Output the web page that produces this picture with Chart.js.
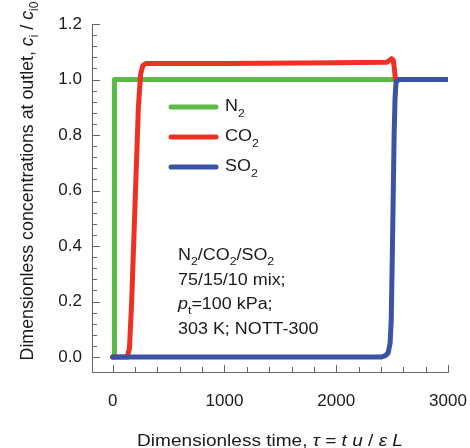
<!DOCTYPE html>
<html>
<head>
<meta charset="utf-8">
<script src="https://cdn.jsdelivr.net/npm/chart.js@4/dist/chart.umd.min.js"></script>
<style>
  html, body { margin: 0; padding: 0; background: #fff; }
  #wrap { width: 470px; height: 448px; position: relative; }
</style>
</head>
<body>
<div id="wrap"><canvas id="chart"></canvas></div>
<script>
// breakthrough curves (tau, c/c0)
const n2Tau  = [0, 12, 12, 20, 3000];
const n2Conc = [0, 0, 0.97, 1.0, 1.0];

const co2Tau  = [0, 130, 150, 170, 200, 230, 250, 270, 300, 1000, 2000, 2450, 2480, 2495, 2510, 2520, 2530, 2560, 3000];
const co2Conc = [0, 0, 0.03, 0.2, 0.55, 0.9, 1.02, 1.05, 1.058, 1.058, 1.06, 1.062, 1.07, 1.075, 1.07, 1.04, 1.0, 1.0, 1.0];

const so2Tau  = [0, 2400, 2440, 2465, 2482, 2492, 2505, 2518, 2526, 2535, 2560, 3000];
const so2Conc = [0, 0, 0.005, 0.015, 0.05, 0.13, 0.45, 0.8, 0.93, 0.99, 1.0, 1.0];

const xTicks = [0, 1000, 2000, 3000];
const yTicks = [0, 0.2, 0.4, 0.6, 0.8, 1.0, 1.2];

const seriesNames = ['N', 'CO', 'SO'];
const seriesColors = ['#5cbb46', '#ee3124', '#3a53a4'];

const FONT = '"Liberation Sans", Arial, Helvetica, sans-serif';
const STRETCH = 1.12; // the source figure is a bit wider than it is tall

function pts(xs, ys) {
  return xs.map((x, i) => ({ x: x, y: ys[i] }));
}

// text made of runs: {t, it, sub}
function drawRuns(ctx, runs, x, y, size, align, subDrop, sx) {
  const subSize = Math.round(size * 0.7);
  const fontOf = r => (r.it ? 'italic ' : '') + (r.sub ? subSize : size) + 'px ' + FONT;
  let total = 0;
  runs.forEach(r => { ctx.font = fontOf(r); total += ctx.measureText(r.t).width; });
  ctx.save();
  ctx.translate(align === 'center' ? x - total * sx / 2 : x, y);
  ctx.scale(sx, 1);
  ctx.textAlign = 'left';
  ctx.textBaseline = 'alphabetic';
  let cx = 0;
  runs.forEach(r => {
    ctx.font = fontOf(r);
    ctx.fillText(r.t, cx, r.sub ? subDrop : 0);
    cx += ctx.measureText(r.t).width;
  });
  ctx.restore();
}

const xTitle = [
  { t: 'Dimensionless time, ' }, { t: '\u03c4', it: true }, { t: ' = ' },
  { t: 't', it: true }, { t: ' ' }, { t: 'u', it: true }, { t: ' / ' },
  { t: '\u03b5', it: true }, { t: ' ' }, { t: 'L', it: true }
];
const yTitle = [
  { t: 'Dimensionless concentrations at outlet, ' }, { t: 'c', it: true }, { t: 'i', sub: true },
  { t: ' / ' }, { t: 'c', it: true }, { t: 'i0', sub: true }
];
const noteLines = [
  [{ t: 'N' }, { t: '2', sub: true }, { t: '/CO' }, { t: '2', sub: true }, { t: '/SO' }, { t: '2', sub: true }],
  [{ t: '75/15/10 mix;' }],
  [{ t: 'p', it: true }, { t: 't', sub: true }, { t: '=100 kPa;' }],
  [{ t: '303 K; NOTT-300' }]
];

const decor = {
  id: 'decor',
  afterDraw(chart) {
    const ctx = chart.ctx;
    const xs = chart.scales.x, ys = chart.scales.y;
    const area = chart.chartArea;
    ctx.save();
    // inward tick marks
    ctx.strokeStyle = '#666';
    ctx.lineWidth = 1;
    ctx.beginPath();
    for (let v = 0; v <= 3000; v += 200) {
      const px = Math.round(xs.getPixelForValue(v)) + 0.5;
      const len = v % 1000 === 0 ? 7 : 5;
      ctx.moveTo(px, area.bottom);
      ctx.lineTo(px, area.bottom - len);
    }
    for (let k = 0; k <= 30; k++) {
      const py = Math.round(ys.getPixelForValue(k * 0.04)) + 0.5;
      const len = k % 5 === 0 ? 8 : 5;
      ctx.moveTo(area.left, py);
      ctx.lineTo(area.left + len, py);
    }
    ctx.stroke();

    ctx.fillStyle = '#1a1a1a';
    // axis titles
    drawRuns(ctx, xTitle, 270, 446, 17, 'center', 5, STRETCH);
    ctx.save();
    ctx.translate(33, 181);
    ctx.rotate(-Math.PI / 2);
    drawRuns(ctx, yTitle, 0, 0, 17.8, 'center', 5, 1);
    ctx.restore();

    // legend
    seriesNames.forEach((name, i) => {
      const y = 107 + i * 30;
      ctx.strokeStyle = seriesColors[i];
      ctx.lineWidth = 5;
      ctx.lineCap = 'round';
      ctx.beginPath();
      ctx.moveTo(171, y);
      ctx.lineTo(216, y);
      ctx.stroke();
      ctx.fillStyle = '#1a1a1a';
      drawRuns(ctx, [{ t: name }, { t: '2', sub: true }], 225, y + 3.5, 16, 'left', 6, STRETCH);
    });

    // note
    noteLines.forEach((runs, i) => {
      drawRuns(ctx, runs, 178, 260 + i * 24.7, 16, 'left', 4.5, STRETCH);
    });
    ctx.restore();
  }
};

const common = {
  fill: false,
  pointRadius: 0,
  borderWidth: 5,
  tension: 0,
  borderJoinStyle: 'round',
  borderCapStyle: 'round'
};

new Chart(document.getElementById('chart'), {
  type: 'line',
  data: {
    datasets: [
      Object.assign({ label: 'N2', data: pts(n2Tau, n2Conc), borderColor: seriesColors[0], order: 3 }, common),
      Object.assign({ label: 'CO2', data: pts(co2Tau, co2Conc), borderColor: seriesColors[1], order: 2 }, common),
      Object.assign({ label: 'SO2', data: pts(so2Tau, so2Conc), borderColor: seriesColors[2], order: 1 }, common)
    ]
  },
  options: {
    responsive: true,
    maintainAspectRatio: false,
    animation: false,
    layout: { padding: { top: 24, right: 22, left: 0, bottom: 0 } },
    plugins: {
      legend: { display: false },
      title: { display: false },
      tooltip: { enabled: false }
    },
    scales: {
      x: {
        type: 'linear',
        min: -185,
        max: 3000,
        afterBuildTicks: s => { s.ticks = xTicks.map(v => ({ value: v })); },
        afterFit: s => { s.height = 76; s.paddingLeft = 0; s.paddingRight = 0; },
        grid: { drawOnChartArea: false, drawTicks: false },
        border: { display: true, color: '#666', width: 1 },
        ticks: {
          padding: 19,
          color: '#1a1a1a',
          font: { family: FONT, size: 17 },
          maxRotation: 0,
          callback: v => String(v)
        }
      },
      y: {
        type: 'linear',
        min: -0.054,
        max: 1.2,
        afterBuildTicks: s => { s.ticks = yTicks.map(v => ({ value: v })); },
        afterFit: s => { s.width = 92; s.paddingTop = 0; s.paddingBottom = 0; },
        grid: { drawOnChartArea: false, drawTicks: false },
        border: { display: true, color: '#666', width: 1 },
        ticks: {
          padding: 10,
          color: '#1a1a1a',
          font: { family: FONT, size: 17 },
          callback: v => v.toFixed(1)
        }
      }
    }
  },
  plugins: [decor]
});
</script>
</body>
</html>
